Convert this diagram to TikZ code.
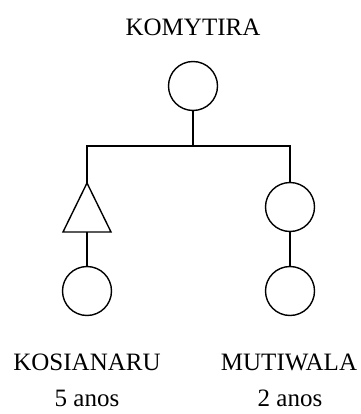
\documentclass[tikz,border=0pt]{standalone}
\usepackage{fontspec}
\setmainfont{Liberation Serif}
\begin{document}
\begin{tikzpicture}[x=1pt,y=-1pt,line width=1.4pt,
  person/.style={draw,circle,minimum size=49pt,inner sep=0pt},
  lbl/.style={font=\fontsize{25}{28}\selectfont,inner sep=0pt,anchor=center}]
\useasboundingbox (0,0) rectangle (360,414);
\node[lbl] (title) at (193,27) {KOMYTIRA};
\node[person] (top) at (193,86) {};
\coordinate (j) at (193,146);
\coordinate (tA) at (87,183);
\coordinate (tL) at (63,232);
\coordinate (tR) at (111,232);
\coordinate (tB) at (87,232);
\draw (tA) -- (tL) -- (tR) -- cycle;
\node[person] (lb) at (87,291) {};
\node[person] (r1) at (290,207) {};
\node[person] (r2) at (290,291) {};
\draw (top.south) -- (j);
\draw (tA) |- (j) -| (r1.north);
\draw (tB) -- (lb.north);
\draw (r1.south) -- (r2.north);
\node[lbl] (n1) at (87,362) {KOSIANARU};
\node[lbl] (n2) at (289,362) {MUTIWALA};
\node[lbl] (a1) at (87,398) {5 anos};
\node[lbl] (a2) at (290,398) {2 anos};
\end{tikzpicture}
\end{document}
